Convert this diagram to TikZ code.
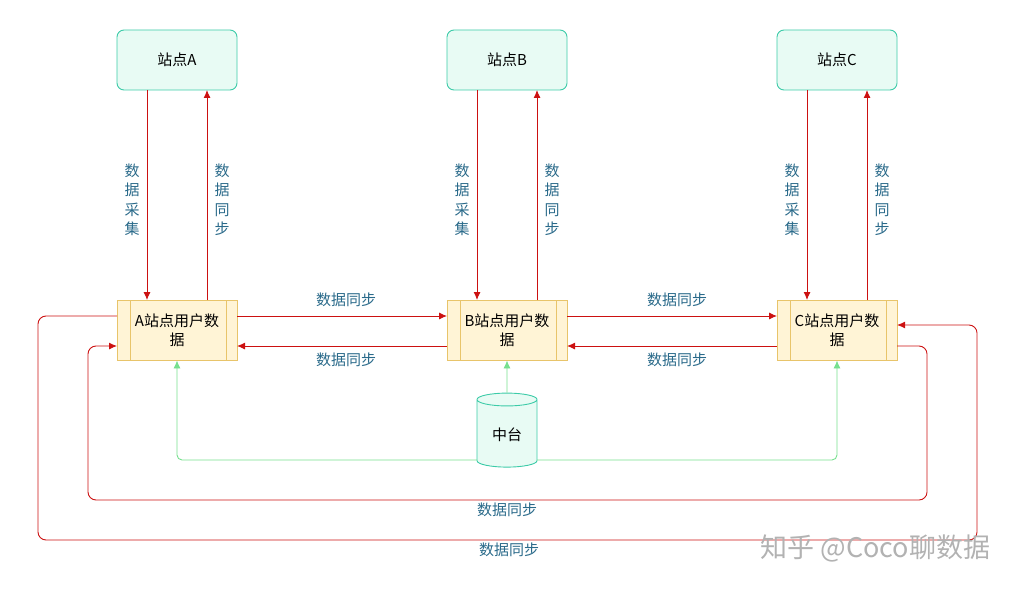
\documentclass[tikz,border=0pt]{standalone}
\usepackage{fontspec}
\setmainfont{Noto Sans CJK SC}
\usetikzlibrary{shapes.geometric,arrows.meta}
\definecolor{rl}{HTML}{CC1111}
\definecolor{gl}{HTML}{77E08F}
\definecolor{tx}{HTML}{2A6A8A}
\definecolor{sb}{HTML}{3CCBA8}
\definecolor{sf}{HTML}{E8FBF4}
\definecolor{pb}{HTML}{E8C46A}
\definecolor{pf}{HTML}{FFF4D6}
\begin{document}
\begin{tikzpicture}[x=1pt,y=-1pt,font=\fontsize{15}{19}\selectfont,line width=0.9pt,
 st/.style={draw=sb,fill=sf,rounded corners=7pt,minimum width=120pt,minimum height=60pt},
 pr/.style={draw=pb,fill=pf,minimum width=120pt,minimum height=60pt,align=center},
 ra/.style={draw=rl,-{Latex[length=8pt,width=7pt]}},
 ga/.style={draw=gl,-{Latex[length=8pt,width=7pt]}},
 lb/.style={text=tx,align=center,font=\fontsize{15}{19.5}\selectfont}]
\useasboundingbox (0,0) rectangle (1016,591);
\foreach \n/\x/\L in {a/177/A,b/507/B,c/837/C}{
 \node[st] (s\n) at (\x,60) {站点\L};
 \node[pr] (p\n) at (\x,330) {\L 站点用户数\\据};
 \draw[pb] (\x-47,300)--(\x-47,360) (\x+49,300)--(\x+49,360);
 \draw[ra] (\x-30,90) -- (\x-30,300);
 \draw[ra] (\x+30,300) -- (\x+30,90);
 \node[lb] at (\x-45,200) {数\\据\\采\\集};
 \node[lb] at (\x+45,200) {数\\据\\同\\步};
}
\draw[ra] (237,316) -- (447,316);
\draw[ra] (447,346) -- (237,346);
\draw[ra] (567,316) -- (777,316);
\draw[ra] (777,346) -- (567,346);
\node[lb] at (346,300) {数据同步};
\node[lb] at (346,360) {数据同步};
\node[lb] at (677,300) {数据同步};
\node[lb] at (677,360) {数据同步};
\node[cylinder,shape border rotate=90,aspect=0.35,draw=sb,fill=sf,minimum width=60pt,minimum height=74pt] (mid) at (507,435) {中台};
\draw[ga] (mid.north) -- (pb.south);
\draw[ga,rounded corners=5pt] (477,460) -- (177,460) -- (pa.south);
\draw[ga,rounded corners=5pt] (537,460) -- (837,460) -- (pc.south);
\draw[ra,rounded corners=8pt] (897,346) -- (927,346) -- (927,500) -- (88,500) -- (88,346) -- (117,346);
\node[lb] at (507,510) {数据同步};
\draw[ra,rounded corners=8pt] (117,316) -- (38,316) -- (38,540) -- (977,540) -- (977,325) -- (897,325);
\node[lb] at (509,550) {数据同步};
\node[text=gray!60,font=\fontsize{27}{30}\selectfont,anchor=east] at (994,548) {知乎 @Coco聊数据};
\end{tikzpicture}
\end{document}
